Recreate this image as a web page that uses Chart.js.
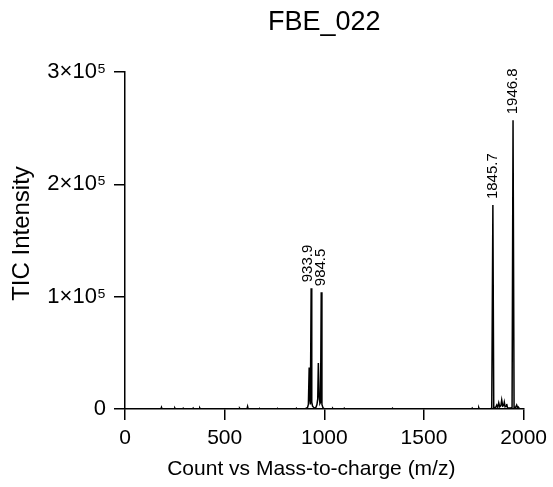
<!DOCTYPE html>
<html>
<head>
<meta charset="utf-8">
<script src="https://cdn.jsdelivr.net/npm/chart.js@4.4.1/dist/chart.umd.min.js"></script>
<style>
html,body{margin:0;padding:0;background:#fff;}
canvas{display:block;}
</style>
</head>
<body>
<canvas id="c" width="553" height="487"></canvas>
<script>
const chartTitle = 'FBE_022';
const xTitle = 'Count vs Mass-to-charge (m/z)';
const yTitle = 'TIC Intensity';
const yTickValues = [0, 100000, 200000, 300000];
const yTickLabels = ['0', '1×10⁵', '2×10⁵', '3×10⁵'];
const xTickValues = [0, 500, 1000, 1500, 2000];
const xTickLabels = ['0', '500', '1000', '1500', '2000'];

const mz = [0, 60, 180, 183, 186, 247, 250, 253, 289, 292, 295, 339, 342, 345, 372, 375, 378,
  572, 575, 578, 612, 615, 618, 672, 675, 678, 762, 765, 768, 857, 860, 863,
  900, 910, 916, 920, 924, 927, 930, 933.9, 937, 941, 946, 952, 958, 963, 967, 970, 974, 978, 981, 984.5, 988, 993, 1000,
  1039, 1042, 1045, 1097, 1100, 1103, 1339, 1342, 1345, 1739, 1742, 1745, 1772, 1775, 1778,
  1830, 1840, 1845.7, 1850, 1860, 1865, 1870, 1875, 1880, 1886, 1890, 1895, 1900, 1903, 1907, 1912, 1915, 1919,
  1935, 1942, 1946.8, 1952, 1960, 1965, 1970, 1973, 1978, 1995];
const intensity = [0, 0, 0, 1500, 0, 0, 800, 0, 0, 700, 0, 0, 800, 0, 0, 900, 0,
  0, 700, 0, 0, 2200, 0, 0, 600, 0, 0, 600, 0, 0, 700, 0,
  0, 600, 1500, 4000, 37000, 9000, 4000, 107500, 6000, 2500, 1500, 700, 1500, 4000, 9000, 41000, 12000, 5000, 6000, 104000, 4000, 1200, 0,
  0, 600, 0, 0, 700, 0, 0, 700, 0, 0, 800, 0, 0, 1200, 0,
  0, 800, 181500, 1000, 1500, 3500, 1500, 5500, 2000, 3000, 8000, 2500, 3000, 6000, 2000, 2500, 4500, 1000,
  800, 1500, 257000, 1500, 1500, 3500, 1000, 1800, 500, 0];

const peakLabels = [933.9, 984.5, 1845.7, 1946.8];

const points = mz.map((m, i) => ({x: m, y: intensity[i]}));
const FONT = "'Liberation Sans', Arial, sans-serif";

const textPlugin = {
  id: 'texts',
  afterDraw(chart) {
    const ctx = chart.ctx;
    const xs = chart.scales.x, ys = chart.scales.y;
    const ca = chart.chartArea;
    ctx.save();
    ctx.fillStyle = '#000';
    // peak labels (first label sits to the left of its peak to avoid overlap)
    ctx.font = "15px " + FONT;
    ctx.textAlign = 'left';
    peakLabels.forEach((p, k) => {
      const i = mz.indexOf(p);
      const px = xs.getPixelForValue(p);
      const py = ys.getPixelForValue(intensity[i]);
      ctx.save();
      ctx.textBaseline = k === 0 ? 'alphabetic' : 'middle';
      ctx.translate(px, py - 6);
      ctx.rotate(-Math.PI / 2);
      ctx.fillText(p.toFixed(1), 0, k === 0 ? 1 : 0);
      ctx.restore();
    });
    // chart title
    ctx.textAlign = 'center';
    ctx.textBaseline = 'middle';
    ctx.font = "27px " + FONT;
    ctx.fillText(chartTitle, (ca.left + ca.right) / 2, 23);
    // x title
    ctx.font = "21px " + FONT;
    ctx.fillText(xTitle, (ca.left + ca.right) / 2 - 13, 469);
    // y title
    ctx.save();
    ctx.translate(22, (ca.top + ca.bottom) / 2 - 7);
    ctx.rotate(-Math.PI / 2);
    ctx.font = "24px " + FONT;
    ctx.fillText(yTitle, 0, 0);
    ctx.restore();
    ctx.restore();
  }
};

new Chart(document.getElementById('c'), {
  type: 'line',
  data: {
    datasets: [{
      data: points,
      borderColor: '#000',
      borderWidth: 1.5,
      pointRadius: 0,
      tension: 0,
      fill: false
    }]
  },
  options: {
    responsive: false,
    animation: false,
    layout: {padding: {left: 0, right: 28, top: 72, bottom: 0}},
    plugins: {
      legend: {display: false},
      tooltip: {enabled: false},
      title: {display: false}
    },
    scales: {
      x: {
        type: 'linear',
        min: 0, max: 2000,
        afterBuildTicks(s) { s.ticks = xTickValues.map(v => ({value: v})); },
        afterFit(s) { s.height = 78; },
        ticks: {color: '#000', font: {family: FONT, size: 21}, padding: 6, maxRotation: 0,
          callback: (v) => xTickLabels[xTickValues.indexOf(v)]},
        grid: {display: true, drawOnChartArea: false, drawTicks: true, tickLength: 11, color: '#000', lineWidth: 1.5},
        border: {display: true, color: '#000', width: 1.5}
      },
      y: {
        type: 'linear',
        min: 0, max: 300000,
        afterBuildTicks(s) { s.ticks = yTickValues.map(v => ({value: v})); },
        afterFit(s) { s.width = 125; },
        ticks: {color: '#000', font: {family: FONT, size: 22}, padding: 8,
          callback: (v) => yTickLabels[yTickValues.indexOf(v)]},
        grid: {display: true, drawOnChartArea: false, drawTicks: true, tickLength: 11, color: '#000', lineWidth: 1.5},
        border: {display: true, color: '#000', width: 1.5}
      }
    }
  },
  plugins: [textPlugin]
});
</script>
</body>
</html>
